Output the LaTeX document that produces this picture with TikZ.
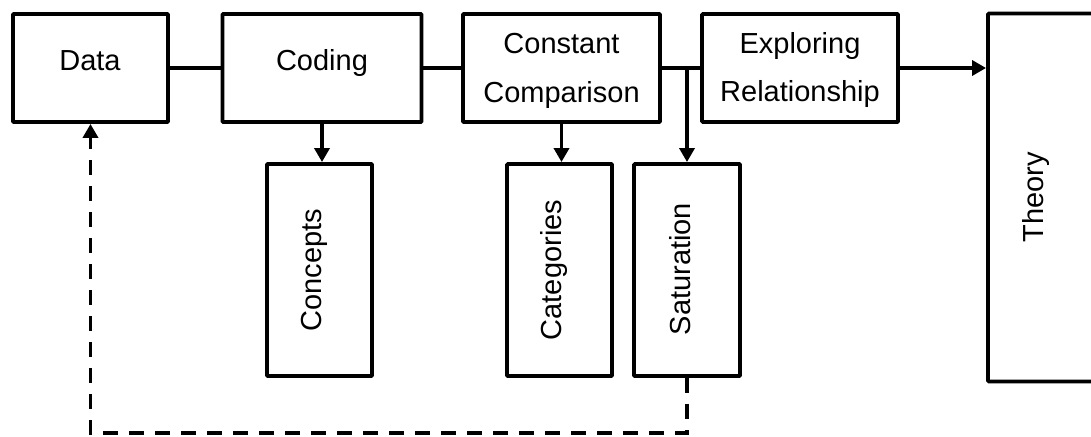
\documentclass[tikz,border=0pt]{standalone}
\usepackage{fontspec}
\setmainfont{Liberation Sans}
\usetikzlibrary{arrows.meta}
\begin{document}
\begin{tikzpicture}[x=1pt,y=-1pt,
  box/.style={draw, line width=3.9pt, inner sep=0pt, rounded corners=1pt},
  lbl/.style={font=\fontsize{29}{34}\selectfont, inner sep=0pt, anchor=base},
  vlbl/.style={lbl, rotate=90},
  conn/.style={line width=3.6pt},
  arr/.style={-{Triangle[length=14pt,width=15pt]}},
  dashline/.style={line width=3.6pt, dash pattern=on 15pt off 11pt}]
\useasboundingbox (0,0) rectangle (1091,436);
% top row
\node[box, minimum width=155pt, minimum height=108pt] (data) at (90.5,68) {};
\node[box, minimum width=199pt, minimum height=108pt] (coding) at (322,68) {};
\node[box, minimum width=197pt, minimum height=108pt] (cc) at (561.5,68) {};
\node[box, minimum width=196pt, minimum height=108pt] (expl) at (800,68) {};
\node[box, minimum width=106pt, minimum height=368pt] (theory) at (1041,197.5) {};
% lower row
\node[box, minimum width=105pt, minimum height=212pt] (concepts) at (319.5,270) {};
\node[box, minimum width=105pt, minimum height=212pt] (cat) at (559.5,270) {};
\node[box, minimum width=106pt, minimum height=212pt] (sat) at (687,270) {};
% labels
\node[lbl] (datat) at (90,70.7) {Data};
\node[lbl] (codingt) at (322,70.7) {Coding};
\node[lbl] (cct1) at (561.5,53) {Constant};
\node[lbl] (cct2) at (561.5,102) {Comparison};
\node[lbl] (explt1) at (800,53) {Exploring};
\node[lbl] (explt2) at (800,101.5) {Relationship};
\node[vlbl] (conceptst) at (321.7,270) {Concepts};
\node[vlbl] (catt) at (561.7,270) {Categories};
\node[vlbl] (satt) at (690,269) {Saturation};
\node[vlbl] (theoryt) at (1043.3,197.5) {Theory};
% connectors
\draw[conn] (data) -- (coding);
\draw[conn] (coding) -- (cc);
\draw[conn] (cc) -- (expl);
\coordinate (br) at (sat.north |- cc.east);
\draw[conn,arr] (br) -- (sat.north);
\draw[conn,arr] (coding.south) -- (coding.south |- concepts.north);
\draw[conn,arr] (cc.south) -- (cc.south |- cat.north);
\draw[conn,arr] (expl.east) -- (theory.west |- expl.east);
\coordinate (dcorner) at (sat.south |- 0,433);
\draw[dashline,arr] (sat.south) -- (dcorner) -| (data.south);
\end{tikzpicture}
\end{document}
